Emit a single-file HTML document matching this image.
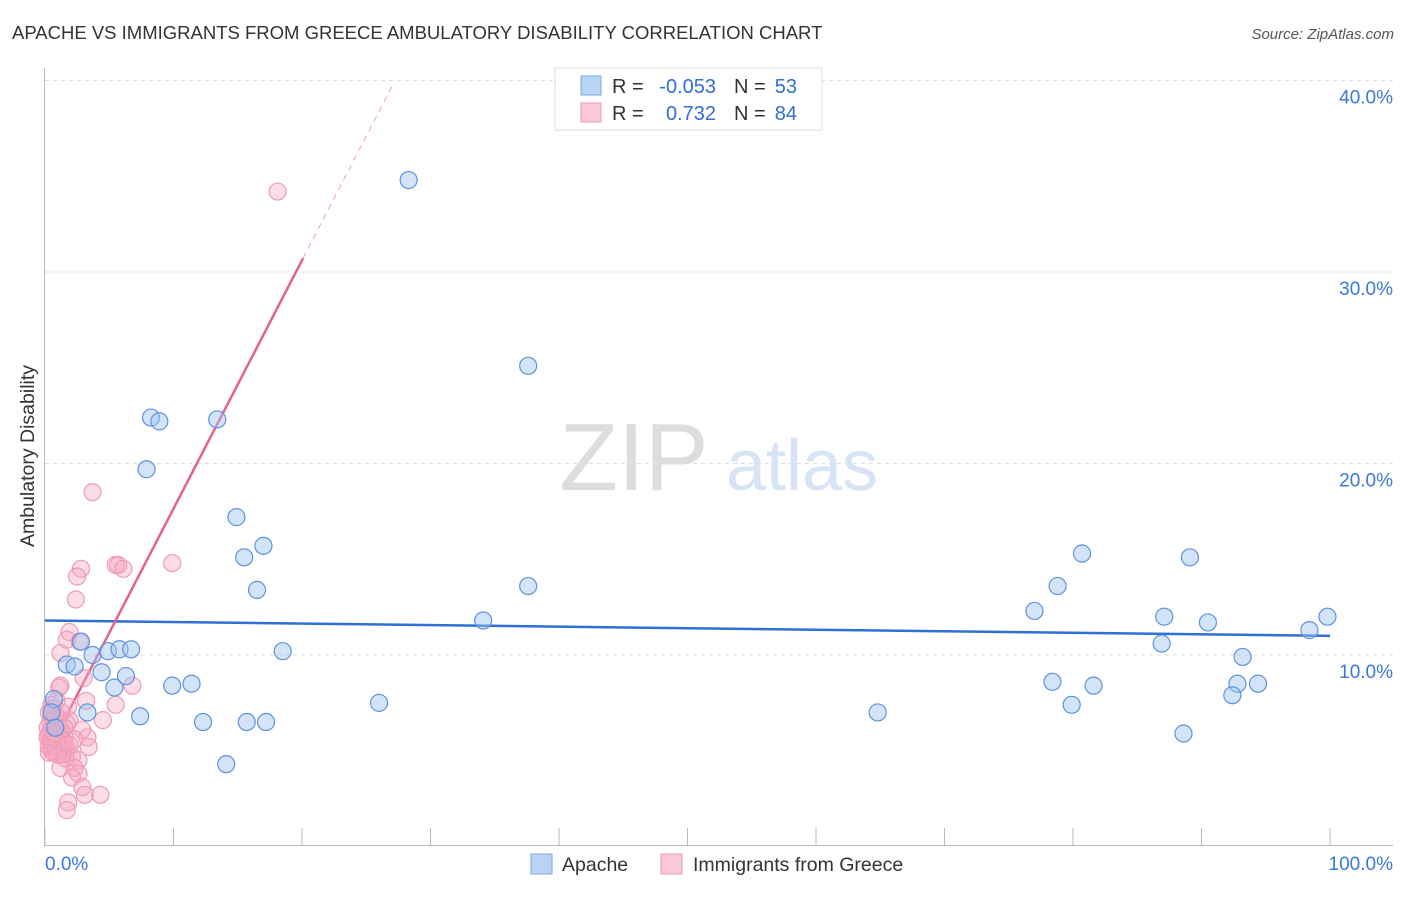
<!DOCTYPE html>
<html><head><meta charset="utf-8"><style>
body{margin:0;background:#fff;font-family:"Liberation Sans",sans-serif}
svg text{font-family:"Liberation Sans",sans-serif}
</style></head><body>
<svg id="chart" width="1406" height="892">
<text x="12" y="39" font-size="18.5" fill="#333">APACHE VS IMMIGRANTS FROM GREECE AMBULATORY DISABILITY CORRELATION CHART</text>
<text x="1394" y="39" font-size="15" fill="#555" font-style="italic" text-anchor="end">Source: ZipAtlas.com</text>
<text x="0" y="0" transform="translate(34,456) rotate(-90)" font-size="19.5" fill="#333" text-anchor="middle">Ambulatory Disability</text>
<g>
<text x="634" y="490" font-size="96" fill="#ddd" font-family="Liberation Serif,serif" text-anchor="middle">ZIP</text>
<text x="802" y="490" font-size="72" fill="#d6e4f5" text-anchor="middle">atlas</text>
</g>
<g id="grid"></g>
<g id="axes"></g>
<g id="lines"></g>
<g id="points"></g>
<g>
<rect x="555" y="68" width="267" height="62" fill="#fff" stroke="#ddd"/>
<rect x="581" y="76" width="20" height="19" fill="#b8d3f5" stroke="#7aa8e6"/>
<rect x="581" y="103" width="20" height="19" fill="#fac8d6" stroke="#f09ab4"/>
<text x="612" y="93" font-size="20" fill="#333">R =</text>
<text x="716" y="93" font-size="20" fill="#2f6fd6" text-anchor="end">-0.053</text>
<text x="734" y="93" font-size="20" fill="#333">N =</text>
<text x="797" y="93" font-size="20" fill="#2f6fd6" text-anchor="end">53</text>
<text x="612" y="120" font-size="20" fill="#333">R =</text>
<text x="716" y="120" font-size="20" fill="#2f6fd6" text-anchor="end">0.732</text>
<text x="734" y="120" font-size="20" fill="#333">N =</text>
<text x="797" y="120" font-size="20" fill="#2f6fd6" text-anchor="end">84</text>
</g>
<g>
<rect x="531" y="854" width="21" height="20" fill="#b8d3f5" stroke="#7aa8e6"/>
<text x="562" y="871" font-size="19.5" fill="#333">Apache</text>
<rect x="661" y="854" width="21" height="20" fill="#fac8d6" stroke="#f09ab4"/>
<text x="693" y="871" font-size="19.5" fill="#333">Immigrants from Greece</text>
</g>
</svg>
<script>
const blueX=[28.3,37.6,8.25,8.9,13.4,7.9,14.9,15.5,17.0,16.5,37.6,34.1,18.5,2.8,3.7,4.9,5.8,6.7,1.7,2.3,4.4,5.4,6.3,9.9,11.4,7.4,3.3,0.7,0.5,0.8,12.3,15.7,17.2,14.1,26.0,64.8,80.7,89.1,78.8,77.0,87.1,90.5,99.8,98.4,86.9,93.2,78.4,81.6,92.8,94.4,92.4,79.9,88.6];
const blueY=[34.8,25.1,22.4,22.2,22.3,19.7,17.2,15.1,15.7,13.4,13.6,11.8,10.2,10.7,10.0,10.2,10.3,10.3,9.5,9.4,9.1,8.3,8.9,8.4,8.5,6.8,7.0,7.7,7.0,6.2,6.5,6.5,6.5,4.3,7.5,7.0,15.3,15.1,13.6,12.3,12.0,11.7,12.0,11.3,10.6,9.9,8.6,8.4,8.5,8.5,7.9,7.4,5.9];
const pinkX=[18.1,3.7,9.9,5.5,5.7,6.1,2.8,2.5,2.4,1.9,1.7,2.7,1.2,6.8,3.0,1.2,1.1,5.5,3.2,4.5,3.3,3.4,1.8,1.9,2.9,2.3,1.6,2.1,2.6,1.2,2.3,2.6,2.1,2.9,3.1,4.3,1.8,1.7,
0.3,0.5,0.7,0.9,1.1,1.3,1.5,0.4,0.6,0.8,1.0,1.2,1.4,1.6,0.3,0.5,0.7,0.9,1.1,1.3,0.2,0.4,0.6,0.8,1.0,1.2,1.4,1.7,0.3,0.5,0.7,0.9,1.1,0.2,0.4,0.6,0.8,1.0,1.3,1.5,0.5,0.9,1.6,0.3,0.7,1.9];
const pinkY=[34.2,18.5,14.8,14.7,14.7,14.5,14.5,14.1,12.9,11.2,10.8,10.7,10.1,8.4,8.8,8.4,8.3,7.4,7.6,6.6,5.7,5.2,7.3,6.6,6.1,5.6,5.1,4.7,4.5,4.1,4.1,3.8,3.6,3.1,2.7,2.7,2.3,1.9,
7.0,6.8,6.6,6.4,6.2,6.0,5.8,6.5,6.3,6.1,5.9,5.7,5.5,5.3,5.8,5.6,5.4,5.2,5.0,4.8,6.2,6.0,5.8,5.6,5.4,5.2,5.0,6.4,5.2,5.0,4.9,5.5,6.7,5.7,5.5,7.2,6.9,4.8,7.0,6.2,7.4,7.6,4.6,4.9,5.9,5.3];
const blueLine=[11.8,11.0];
const pinkIntercept=4.67, pinkSlope=1.297, pinkSolidEnd=20.08, pinkDashEnd=27.0;
const yTicks=[10,20,30,40];
const xTickLabels=["0.0%","100.0%"];
const NS="http://www.w3.org/2000/svg";
const sx=v=>45+v*12.85, sy=v=>846.5-v*19.15;
function mk(tag,attrs,parent){const e=document.createElementNS(NS,tag);for(const k in attrs)e.setAttribute(k,attrs[k]);document.getElementById(parent).appendChild(e);return e;}
yTicks.forEach(t=>{
 const l=mk('line',{x1:45,x2:1393,y1:sy(t),y2:sy(t),stroke:'#ddd','stroke-dasharray':'4,4'},'grid');
 
 
 const tx=mk('text',{x:1393,y:sy(t)+23,'font-size':19,fill:'#3a78d6','text-anchor':'end'},'grid');
 tx.textContent=t.toFixed(1)+'%';
 
 
});
let a=mk('line',{x1:44.5,x2:44.5,y1:68,y2:845,stroke:'#bbb'},'axes');


a=mk('line',{x1:44,x2:1393,y1:845.5,y2:845.5,stroke:'#bbb'},'axes');


for(let i=0;i<=10;i++){const t=mk('line',{x1:sx(i*10),x2:sx(i*10),y1:828,y2:845,stroke:'#bbb'},'axes');
 
 }
[[0,'start',45],[1,'end',1393]].forEach(([i,anc,x])=>{const t=mk('text',{x:x,y:870,'font-size':19,fill:'#3a78d6','text-anchor':anc},'axes');t.textContent=xTickLabels[i];
 
 });
let ln=mk('line',{x1:sx(0),x2:sx(100),y1:sy(blueLine[0]),y2:sy(blueLine[1]),stroke:'#2f6fd6','stroke-width':2.5},'lines');


ln=mk('line',{x1:sx(0),x2:sx(pinkSolidEnd),y1:sy(pinkIntercept),y2:sy(pinkIntercept+pinkSlope*pinkSolidEnd),stroke:'#e8608c','stroke-width':2.5},'lines');


ln=mk('line',{x1:sx(pinkSolidEnd),x2:sx(pinkDashEnd),y1:sy(pinkIntercept+pinkSlope*pinkSolidEnd),y2:sy(pinkIntercept+pinkSlope*pinkDashEnd),stroke:'#f0a0b8','stroke-width':1,'stroke-dasharray':'6,5'},'lines');


pinkX.forEach((x,i)=>{const c=mk('circle',{cx:sx(x),cy:sy(pinkY[i]),r:8.5,fill:'rgba(246,170,194,0.4)',stroke:'#f09ab4','stroke-width':1.2},'points');
 
 });
blueX.forEach((x,i)=>{const c=mk('circle',{cx:sx(x),cy:sy(blueY[i]),r:8.5,fill:'rgba(160,196,240,0.45)',stroke:'#5d93dd','stroke-width':1.2},'points');
 
 });
</script>
</body></html>
